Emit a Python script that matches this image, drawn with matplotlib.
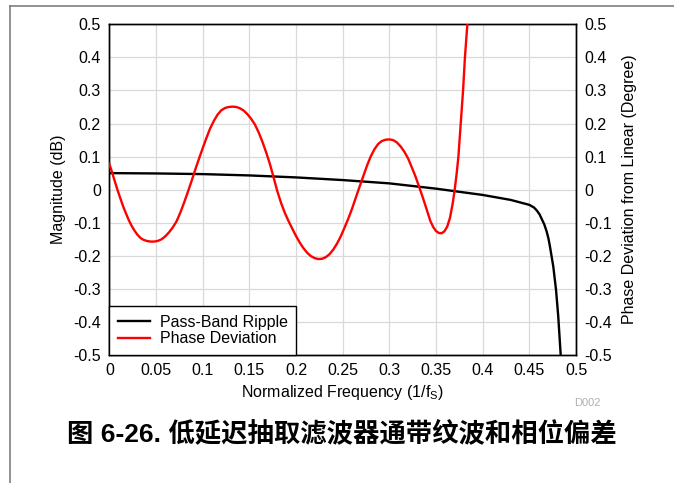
import matplotlib
matplotlib.use('Agg')
from matplotlib import pyplot as plt
from matplotlib.lines import Line2D

# pass-band ripple (dB)
ripple_x = [0.0, 0.05, 0.1, 0.15, 0.2, 0.25, 0.3, 0.35, 0.4, 0.43, 0.45,
            0.455, 0.458, 0.461, 0.463, 0.466, 0.4686, 0.4705, 0.4721,
            0.4757, 0.4786, 0.481, 0.4836]
ripple_y = [0.050, 0.049, 0.047, 0.043, 0.037, 0.029, 0.019, 0.003, -0.016,
            -0.031, -0.046, -0.054, -0.063, -0.075, -0.087, -0.105, -0.127,
            -0.148, -0.172, -0.233, -0.303, -0.384, -0.5]

# phase deviation (degree)
phase_x = [0.000, 0.003, 0.006, 0.009, 0.012, 0.015, 0.018, 0.021, 0.024,
           0.027, 0.030, 0.033, 0.036, 0.040, 0.044, 0.048, 0.052, 0.056,
           0.060, 0.064, 0.068, 0.072, 0.076, 0.080, 0.084, 0.088, 0.092,
           0.096, 0.100, 0.104, 0.108, 0.112, 0.116, 0.120, 0.124, 0.128,
           0.132, 0.136, 0.140, 0.144, 0.148, 0.152, 0.156, 0.160, 0.164,
           0.168, 0.172, 0.176, 0.180, 0.184, 0.188, 0.192, 0.196, 0.200,
           0.204, 0.208, 0.212, 0.216, 0.220, 0.224, 0.228, 0.232, 0.236,
           0.240, 0.244, 0.248, 0.252, 0.256, 0.260, 0.264, 0.268, 0.272,
           0.276, 0.280, 0.284, 0.288, 0.292, 0.296, 0.300, 0.304, 0.308,
           0.312, 0.316, 0.320, 0.324, 0.328, 0.332, 0.336, 0.340, 0.344,
           0.347, 0.350, 0.353, 0.356, 0.359, 0.362, 0.365, 0.368, 0.370,
           0.372, 0.374, 0.3765, 0.379, 0.381, 0.3836, 0.386]
phase_y = [0.078, 0.052, 0.024, -0.003, -0.028, -0.052, -0.073, -0.093,
           -0.110, -0.124, -0.136, -0.145, -0.151, -0.155, -0.157, -0.157,
           -0.155, -0.150, -0.141, -0.129, -0.114, -0.096, -0.070, -0.040,
           -0.008, 0.025, 0.060, 0.093, 0.125, 0.156, 0.185, 0.208, 0.227,
           0.240, 0.247, 0.250, 0.251, 0.250, 0.246, 0.239, 0.228, 0.214,
           0.197, 0.173, 0.145, 0.113, 0.078, 0.037, -0.005, -0.040, -0.070,
           -0.095, -0.118, -0.140, -0.160, -0.177, -0.191, -0.201, -0.207,
           -0.210, -0.209, -0.204, -0.195, -0.181, -0.163, -0.141, -0.115,
           -0.088, -0.058, -0.025, 0.008, 0.040, 0.072, 0.100, 0.122, 0.138,
           0.147, 0.151, 0.152, 0.150, 0.143, 0.131, 0.115, 0.095, 0.068,
           0.040, 0.008, -0.025, -0.060, -0.095, -0.113, -0.125, -0.131,
           -0.132, -0.126, -0.112, -0.085, -0.040, 0.000, 0.045, 0.100,
           0.200, 0.300, 0.400, 0.500, 0.600]

xticks = [0, 0.05, 0.1, 0.15, 0.2, 0.25, 0.3, 0.35, 0.4, 0.45, 0.5]
xtick_labels = ['0', '0.05', '0.1', '0.15', '0.2', '0.25', '0.3', '0.35', '0.4', '0.45', '0.5']
yticks = [-0.5, -0.4, -0.3, -0.2, -0.1, 0, 0.1, 0.2, 0.3, 0.4, 0.5]
ytick_labels = ['-0.5', '-0.4', '-0.3', '-0.2', '-0.1', '0', '0.1', '0.2', '0.3', '0.4', '0.5']

plt.rcParams['font.family'] = ['Liberation Sans', 'Noto Sans CJK SC', 'DejaVu Sans']

fig = plt.figure(figsize=(6.74, 4.83), dpi=100)

# page frame lines
fig.add_artist(Line2D([10 / 674, 1], [1 - 6 / 483, 1 - 6 / 483], color='#7f7f7f', lw=1.2))
fig.add_artist(Line2D([10 / 674, 10 / 674], [0, 1 - 6 / 483], color='#7f7f7f', lw=1.2))

ax = fig.add_axes([0.1622, 0.265, 0.6924, 0.6847])
ax2 = ax.twinx()

ax.plot(ripple_x, ripple_y, color='black', lw=1.7, label='Pass-Band Ripple', zorder=3,
        solid_joinstyle='round')
ax2.plot(phase_x, phase_y, color='#ff0000', lw=1.7, label='Phase Deviation', zorder=3,
         solid_joinstyle='round')

fs = 11.5
for a in (ax, ax2):
    a.set_xlim(0, 0.5)
    a.set_ylim(-0.5, 0.5)
    a.set_yticks(yticks)
    a.set_yticklabels(ytick_labels)
    a.tick_params(length=0, pad=6, labelsize=fs)
    for s in a.spines.values():
        s.set_linewidth(1.0)

ax.set_xticks(xticks)
ax.set_xticklabels(xtick_labels)
ax.grid(True, color='#d9d9d9', lw=0.9)
ax.set_axisbelow(True)

ax.set_xlabel('Normalized Frequency (1/f$_\\mathregular{S}$)', fontsize=fs, labelpad=3)
ax.set_ylabel('Magnitude (dB)', fontsize=fs, labelpad=5)
ax2.set_ylabel('Phase Deviation from Linear (Degree)', fontsize=fs, labelpad=7)

h1, l1 = ax.get_legend_handles_labels()
h2, l2 = ax2.get_legend_handles_labels()
leg = ax2.legend(h1 + h2, l1 + l2, loc='lower left', fontsize=fs, fancybox=False,
                 framealpha=1, edgecolor='black', borderaxespad=0, handlelength=2.0,
                 labelspacing=0.1, borderpad=0.55, handletextpad=0.6)
leg.get_frame().set_linewidth(1.0)

fig.text(587 / 674, 1 - 403 / 483, 'D002', color='#b0b0b0', fontsize=8, ha='center', va='center')
fig.text(342 / 674, 1 - 433 / 483, '图 6-26. 低延迟抽取滤波器通带纹波和相位偏差',
         fontsize=19, fontweight='bold', ha='center', va='center')

fig.savefig('out.png', dpi=100)
